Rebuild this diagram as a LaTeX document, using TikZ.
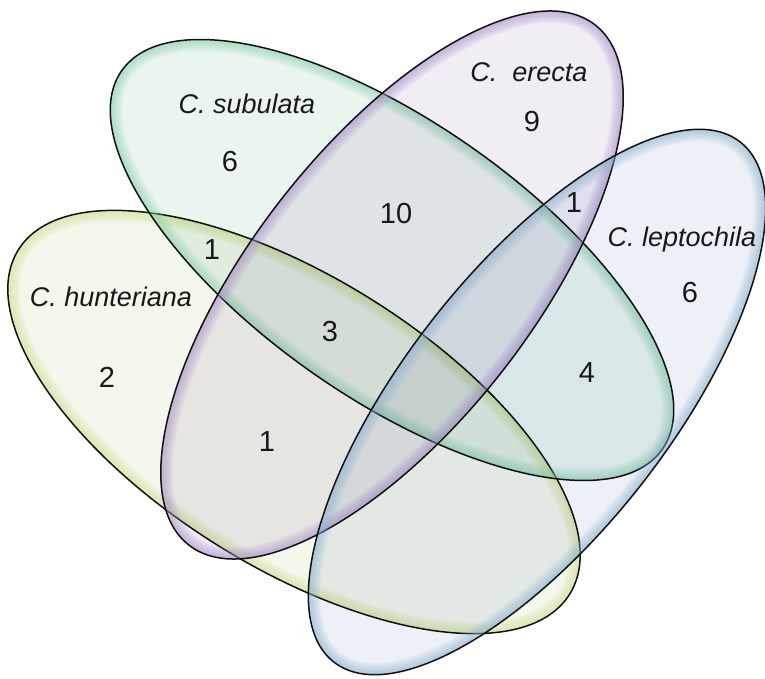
\documentclass[tikz,border=0pt]{standalone}
\usepackage{fontspec}
\setmainfont{Liberation Sans}
\definecolor{yfill}{HTML}{F4F7EC}
\definecolor{yglow}{HTML}{CFE394}
\definecolor{gfill}{HTML}{EBF5F0}
\definecolor{gglow}{HTML}{8ED4B0}
\definecolor{pfill}{HTML}{F1EDF5}
\definecolor{pglow}{HTML}{AE94CC}
\definecolor{bfill}{HTML}{EDF1F7}
\definecolor{bglow}{HTML}{92B6D4}
\definecolor{edge}{HTML}{111111}
\tikzset{
  setlabel/.style={font=\fontsize{27}{31}\selectfont\itshape, text=black!90, inner sep=0pt},
  count/.style={font=\fontsize{29}{34}\selectfont, text=black!90, inner sep=0pt},
  outline/.style={draw=edge, line width=1.5pt}
}
\newcommand\vennset[6]{%
  \begin{scope}[shift={(#1,#2)},rotate=#5]
    \fill[#6fill, blend mode=multiply] (0,0) ellipse [x radius=#3pt, y radius=#4pt];
    \begin{scope}
      \clip (0,0) ellipse [x radius=#3pt, y radius=#4pt];
      \foreach \w in {24,22,...,2}
        \draw[#6glow, line width=\w pt, opacity=0.07] (0,0) ellipse [x radius=#3pt, y radius=#4pt];
    \end{scope}
    \draw[outline] (0,0) ellipse [x radius=#3pt, y radius=#4pt];
  \end{scope}}
\begin{document}
\begin{tikzpicture}[x=1pt,y=-1pt]
\useasboundingbox (0,0) rectangle (765,679);
\vennset{294}{422}{325}{145}{-32}{y}
\vennset{392}{260}{330}{138}{-35}{g}
\vennset{392}{285}{330}{140}{52}{p}
\vennset{537}{402}{330}{133}{52}{b}
\node[setlabel] (lsub) at (247,104) {C. subulata};
\node[setlabel] (lhun) at (111,297) {C. hunteriana};
\node[setlabel] (lere) at (529,72) {C.\ \ erecta};
\node[setlabel] (llep) at (682,240) {C. leptochila};
\node[count] (n6a) at (230,162) {6};
\node[count] (n1a) at (212,250) {1};
\node[count] (n10) at (396,214) {10};
\node[count] (n9) at (532,122) {9};
\node[count] (n1b) at (574,203) {1};
\node[count] (n6b) at (690,293) {6};
\node[count] (n3) at (330,332) {3};
\node[count] (n2) at (107,377) {2};
\node[count] (n1c) at (267,442) {1};
\node[count] (n4) at (587,373) {4};
\end{tikzpicture}
\end{document}
